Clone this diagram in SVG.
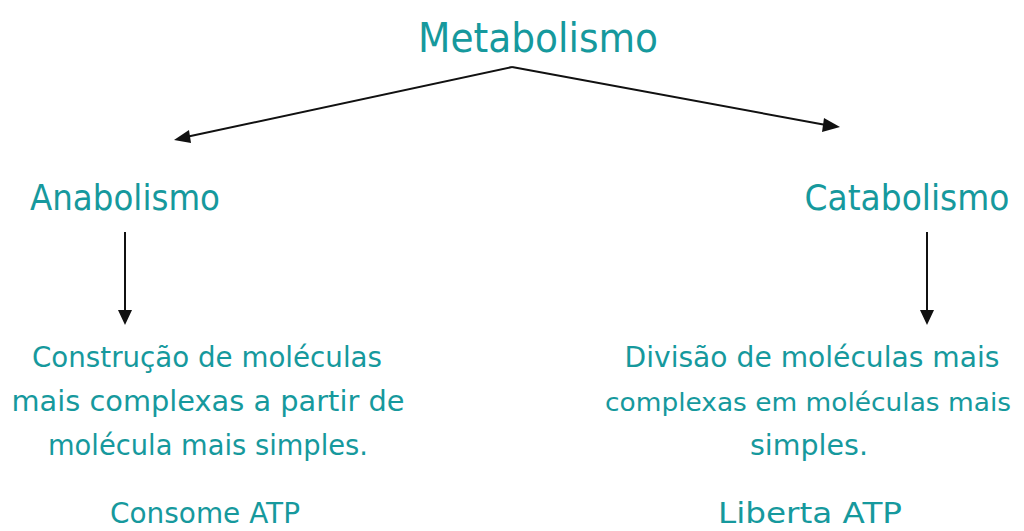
<svg xmlns="http://www.w3.org/2000/svg" width="1024" height="531" viewBox="0 0 1024 531">
<style>
  text { font-family: "DejaVu Sans", "Open Sans", sans-serif; fill: #16999d; text-anchor: middle; }
  .t1 { font-size: 41px; }
  .t2 { font-size: 35px; }
  .t3 { font-size: 28px; }
  .c { stroke: #111; stroke-width: 2; fill: none; }
  .h { fill: #111; }
</style>
<rect width="1024" height="531" fill="#fff"/>
<g id="connectors">
  <path class="c" d="M512,67 L186,137"/>
  <polygon class="h" points="174,140 189,130 191,143"/>
  <path class="c" d="M512,67 L826,125"/>
  <polygon class="h" points="840,127 824,118 822,132"/>
  <path class="c" d="M125,232 L125,312"/>
  <polygon class="h" points="118,310 132,310 125,325"/>
  <path class="c" d="M927,232 L927,312"/>
  <polygon class="h" points="920,310 934,310 927,325"/>
</g>
<g id="metabolismo"><text class="t1" x="538" y="52" textLength="240" lengthAdjust="spacingAndGlyphs">Metabolismo</text></g>
<g id="anabolismo"><text class="t2" x="125" y="210" textLength="190" lengthAdjust="spacingAndGlyphs">Anabolismo</text></g>
<g id="catabolismo"><text class="t2" x="907" y="210" textLength="205" lengthAdjust="spacingAndGlyphs">Catabolismo</text></g>
<g id="anabolismo-desc">
  <text class="t3" x="207" y="367" textLength="350" lengthAdjust="spacingAndGlyphs">Construção de moléculas</text>
  <text class="t3" x="208" y="411" textLength="393" lengthAdjust="spacingAndGlyphs">mais complexas a partir de</text>
  <text class="t3" x="208" y="455" textLength="320" lengthAdjust="spacingAndGlyphs">molécula mais simples.</text>
</g>
<g id="anabolismo-atp"><text class="t3" x="205" y="523" textLength="190" lengthAdjust="spacingAndGlyphs">Consome ATP</text></g>
<g id="catabolismo-desc">
  <text class="t3" x="812" y="367" textLength="375" lengthAdjust="spacingAndGlyphs">Divisão de moléculas mais</text>
  <text class="t3" x="808" y="411" style="font-size:25px" textLength="406" lengthAdjust="spacingAndGlyphs">complexas em moléculas mais</text>
  <text class="t3" x="809" y="455" textLength="118" lengthAdjust="spacingAndGlyphs">simples.</text>
</g>
<g id="catabolismo-atp"><text class="t3" x="810" y="523" textLength="184" lengthAdjust="spacingAndGlyphs">Liberta ATP</text></g>
</svg>
